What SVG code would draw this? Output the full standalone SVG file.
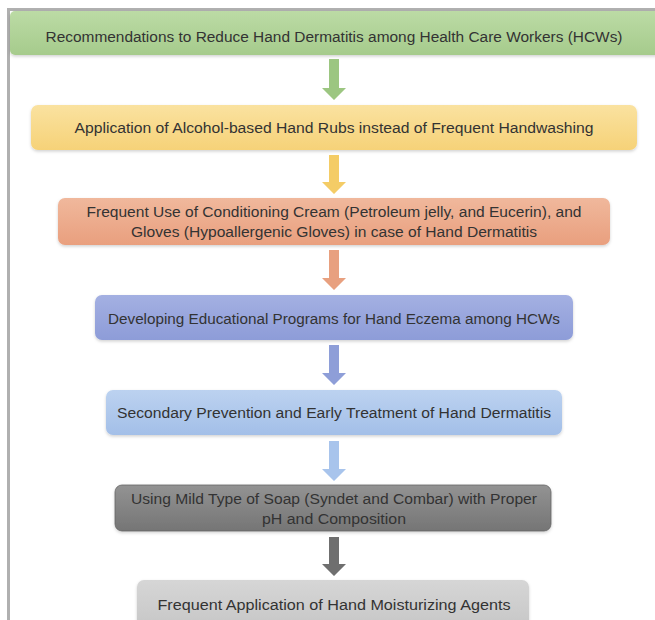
<svg xmlns="http://www.w3.org/2000/svg" width="655" height="620" viewBox="0 0 655 620">
<defs>
<linearGradient id="gGreen" x1="0" y1="0" x2="0" y2="1"><stop offset="0" stop-color="#bcdba5"/><stop offset="1" stop-color="#a6cb8c"/></linearGradient>
<linearGradient id="gYellow" x1="0" y1="0" x2="0" y2="1"><stop offset="0" stop-color="#fae2a0"/><stop offset="1" stop-color="#f6d278"/></linearGradient>
<linearGradient id="gOrange" x1="0" y1="0" x2="0" y2="1"><stop offset="0" stop-color="#f0b89c"/><stop offset="1" stop-color="#e99f7e"/></linearGradient>
<linearGradient id="gBlue" x1="0" y1="0" x2="0" y2="1"><stop offset="0" stop-color="#a4b0e2"/><stop offset="1" stop-color="#8d9cd8"/></linearGradient>
<linearGradient id="gLBlue" x1="0" y1="0" x2="0" y2="1"><stop offset="0" stop-color="#bcd2f0"/><stop offset="1" stop-color="#a3bfe8"/></linearGradient>
<linearGradient id="gDGray" x1="0" y1="0" x2="0" y2="1"><stop offset="0" stop-color="#939393"/><stop offset="1" stop-color="#757575"/></linearGradient>
<linearGradient id="gLGray" x1="0" y1="0" x2="0" y2="1"><stop offset="0" stop-color="#d6d6d6"/><stop offset="1" stop-color="#c6c6c6"/></linearGradient>
<filter id="sh" x="-5%" y="-20%" width="110%" height="150%"><feDropShadow dx="0" dy="1.5" stdDeviation="1.5" flood-color="#000" flood-opacity="0.18"/></filter>
</defs>
<style>
.box{filter:url(#sh);}
.t{font-family:"Liberation Sans",Arial,sans-serif;font-size:14px;fill:#333;text-anchor:middle;}
.frame{fill:none;stroke:#b0b0b0;stroke-width:3;}
</style>
<rect width="655" height="620" fill="#ffffff"/>
<path class="frame" d="M8.5,620 V9.5 H655"/>

<g id="n1">
<rect class="box" x="10" y="11" width="650" height="44" rx="5" fill="url(#gGreen)"/>
<text class="t" x="334" y="42" textLength="577" lengthAdjust="spacingAndGlyphs">Recommendations to Reduce Hand Dermatitis among Health Care Workers (HCWs)</text>
</g>
<g id="n2">
<rect class="box" x="31" y="105" width="606" height="45" rx="7" fill="url(#gYellow)"/>
<text class="t" x="334" y="133" textLength="519" lengthAdjust="spacingAndGlyphs">Application of Alcohol-based Hand Rubs instead of Frequent Handwashing</text>
</g>
<g id="n3">
<rect class="box" x="58" y="198" width="552" height="47" rx="7" fill="url(#gOrange)"/>
<text class="t" x="334" y="217" textLength="495" lengthAdjust="spacingAndGlyphs">Frequent Use of Conditioning Cream (Petroleum jelly, and Eucerin), and</text>
<text class="t" x="334" y="237" textLength="406" lengthAdjust="spacingAndGlyphs">Gloves (Hypoallergenic Gloves) in case of Hand Dermatitis</text>
</g>
<g id="n4">
<rect class="box" x="95" y="295" width="478" height="45" rx="7" fill="url(#gBlue)"/>
<text class="t" x="334" y="324" textLength="452" lengthAdjust="spacingAndGlyphs">Developing Educational Programs for Hand Eczema among HCWs</text>
</g>
<g id="n5">
<rect class="box" x="106" y="390" width="456" height="45" rx="7" fill="url(#gLBlue)"/>
<text class="t" x="334" y="418" textLength="434" lengthAdjust="spacingAndGlyphs">Secondary Prevention and Early Treatment of Hand Dermatitis</text>
</g>
<g id="n6">
<rect class="box" x="115" y="485" width="436" height="46" rx="7" fill="url(#gDGray)" stroke="#666" stroke-width="0.8"/>
<text class="t" x="334" y="504" textLength="406" lengthAdjust="spacingAndGlyphs">Using Mild Type of Soap (Syndet and Combar) with Proper</text>
<text class="t" x="334" y="524" textLength="144" lengthAdjust="spacingAndGlyphs">pH and Composition</text>
</g>
<g id="n7">
<rect class="box" x="137" y="580" width="392" height="50" rx="7" fill="url(#gLGray)"/>
<text class="t" x="334" y="610" textLength="353" lengthAdjust="spacingAndGlyphs">Frequent Application of  Hand Moisturizing Agents</text>
</g>

<g id="connectors">
<path d="M329,59 H339 V88 H346 L334,100 L322,88 H329 Z" fill="#9cc681"/>
<path d="M329,155 H339 V182 H346 L334,194 L322,182 H329 Z" fill="#f4cc66"/>
<path d="M329,250 H339 V278 H346 L334,290 L322,278 H329 Z" fill="#e8a07f"/>
<path d="M329,345 H339 V373 H346 L334,385 L322,373 H329 Z" fill="#8e9ed8"/>
<path d="M329,441 H339 V469 H346 L334,481 L322,469 H329 Z" fill="#a8c4ec"/>
<path d="M329,537 H339 V564 H346 L334,576 L322,564 H329 Z" fill="#6f6f6f"/>
</g>
</svg>
